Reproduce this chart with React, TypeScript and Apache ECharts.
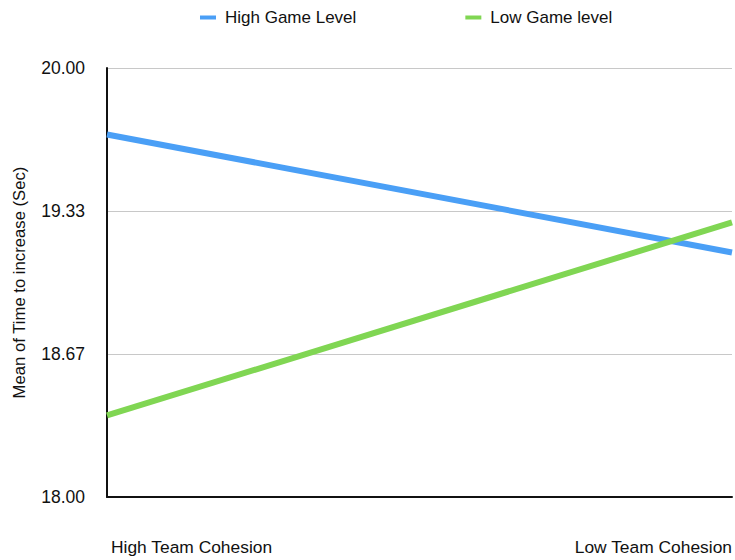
import React, { useEffect, useRef } from "react";
import * as echarts from "echarts";

const categories = ["High Team Cohesion", "Low Team Cohesion"];
const highGameLevel = [19.69, 19.14];
const lowGameLevel = [18.38, 19.28];
const seriesNames = ["High Game Level", "Low Game level"];
const yMin = 18;
const yMax = 20;
const yStep = 2 / 3;

const FONT = '"Liberation Sans", Arial, Helvetica, sans-serif';

export default function App() {
  const ref = useRef<HTMLDivElement>(null);

  useEffect(() => {
    document.body.style.margin = "0";
    if (!ref.current) return;
    const chart = echarts.init(ref.current, undefined, { renderer: "svg" });
    chart.setOption({
      animation: false,
      backgroundColor: "#ffffff",
      textStyle: { fontFamily: FONT },
      legend: {
        top: 4,
        left: 195,
        itemWidth: 16,
        itemHeight: 4,
        itemGap: 109,
        icon: "rect",
        textStyle: {
          fontSize: 17,
          color: "#111",
          fontFamily: FONT,
          padding: [0, 0, 0, 4],
        },
        data: seriesNames,
      },
      grid: { left: 107, right: 0, top: 68, bottom: 63 },
      xAxis: {
        type: "category",
        data: categories,
        boundaryGap: false,
        axisLine: { lineStyle: { color: "#111", width: 2 } },
        axisTick: { show: false },
        axisLabel: {
          margin: 41,
          fontSize: 17.4,
          color: "#111",
          fontFamily: FONT,
          padding: [0, 0, 0, 4],
          alignMinLabel: "left",
          alignMaxLabel: "right",
        },
        splitLine: { show: false },
      },
      yAxis: {
        type: "value",
        min: yMin,
        max: yMax,
        interval: yStep,
        name: "Mean of Time to increase (Sec)",
        nameLocation: "middle",
        nameGap: 79,
        nameTextStyle: { fontSize: 16.7, color: "#111", fontFamily: FONT },
        axisLine: { show: true, lineStyle: { color: "#111", width: 2 } },
        axisTick: { show: false },
        axisLabel: {
          margin: 22,
          fontSize: 17.5,
          color: "#111",
          fontFamily: FONT,
          formatter: (v: number) => v.toFixed(2),
        },
        splitLine: { show: true, lineStyle: { color: "#c8c8c8", width: 1 } },
      },
      series: [
        {
          name: seriesNames[0],
          type: "line",
          data: highGameLevel,
          symbol: "none",
          lineStyle: { width: 6, color: "#4a9ff6" },
          itemStyle: { color: "#4a9ff6" },
        },
        {
          name: seriesNames[1],
          type: "line",
          data: lowGameLevel,
          symbol: "none",
          lineStyle: { width: 6, color: "#80d653" },
          itemStyle: { color: "#80d653" },
        },
      ],
    });
    return () => chart.dispose();
  }, []);

  return <div ref={ref} style={{ width: 735, height: 560 }} />;
}
